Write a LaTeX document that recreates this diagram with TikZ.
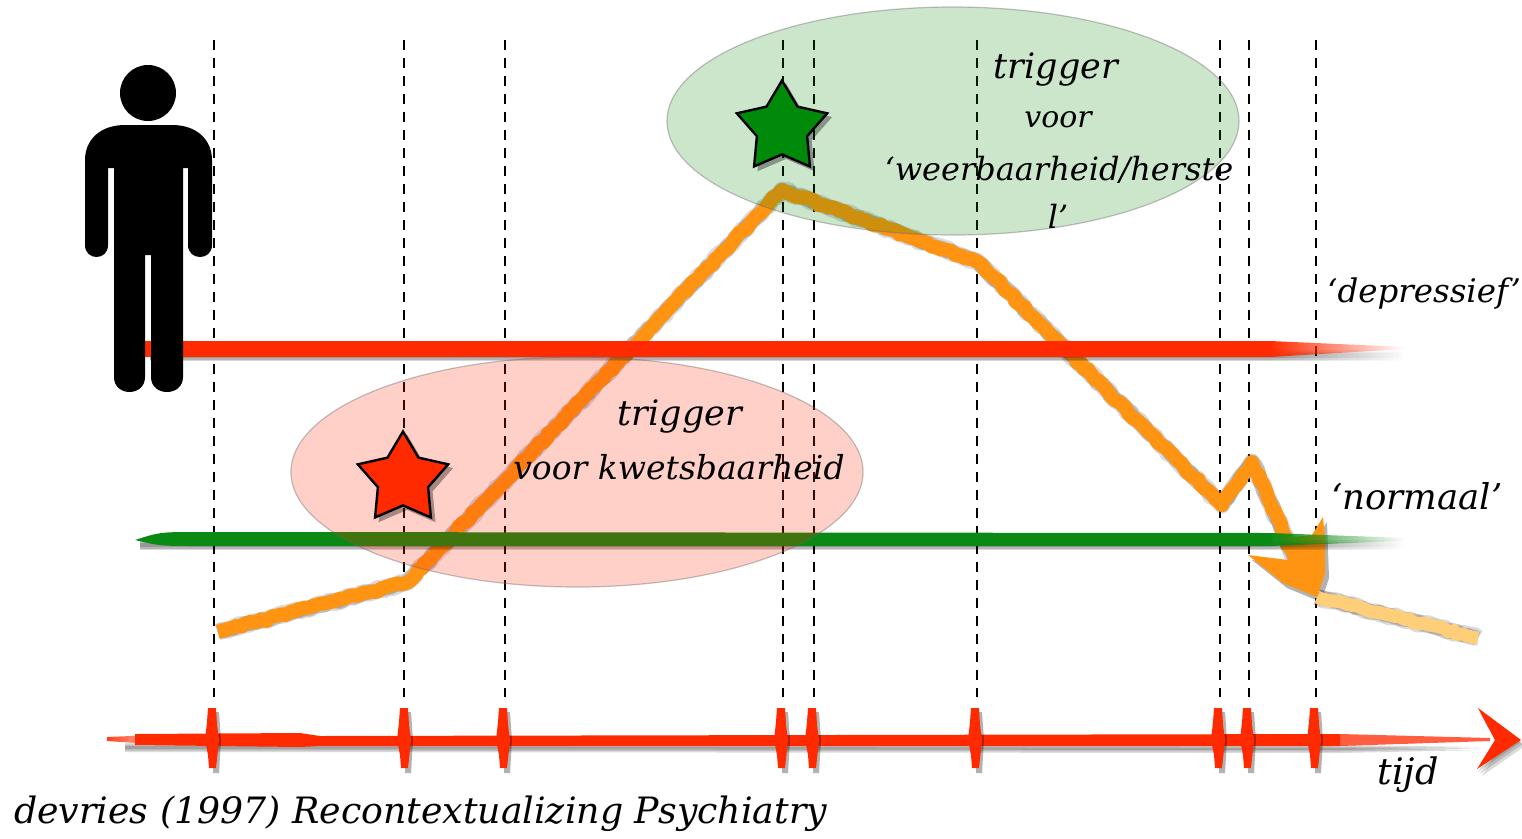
\documentclass[tikz,border=0pt]{standalone}
\usepackage{fontspec}
\newfontfamily\hwfont{DejaVu Serif}
\usetikzlibrary{shapes.geometric,decorations.pathmorphing,fadings}
\definecolor{barred}{HTML}{FF2A00}
\definecolor{bargreen}{HTML}{0A8A14}
\definecolor{curve}{HTML}{FF9412}
\definecolor{curvelight}{HTML}{FFCE78}
\definecolor{stargreen}{HTML}{008A0A}
\tikzfading[name=tailfade,left color=transparent!0,right color=transparent!100]
\tikzset{
  guide/.style={draw=black,line width=2.3pt,dash pattern=on 10pt off 8pt},
  hand/.style={font=\hwfont\itshape\fontsize{#1}{#1}\selectfont,text=black,inner sep=0pt},
  rough/.style={decorate,decoration={random steps,segment length=5pt,amplitude=1.6pt}},
  curveline/.style={draw=curve,line width=14pt,line join=round,rough},
  shadowline/.style={draw=black!70,opacity=.2,line join=round,rough},
  cloudgreen/.style={ellipse,minimum width=572pt,minimum height=228pt,inner sep=0pt,draw=black!60,draw opacity=.4,line width=1.2pt,fill=green!50!black,fill opacity=.2},
  cloudred/.style={ellipse,minimum width=572pt,minimum height=230pt,inner sep=0pt,draw=black!60,draw opacity=.4,line width=1.2pt,fill=barred,fill opacity=.22},
  starmark/.style={star,star points=5,star point ratio=1.8,minimum size=95pt,inner sep=0pt,draw=black,line width=2.4pt,line join=miter},
  starshade/.style={star,star points=5,star point ratio=1.8,minimum size=97pt,inner sep=0pt,fill=black,opacity=.35},
}
\begin{document}
\begin{tikzpicture}[x=1pt,y=-1pt]
\pgfmathsetseed{7}
\useasboundingbox (0,0) rectangle (1522,838);
% guides
\foreach \gx/\gn in {214/a,404/b,505/c,783/d,814/e,977/f,1220/g,1249/h,1316/i}{
  \coordinate (top\gn) at (\gx,40);
  \coordinate (bot\gn) at (\gx,697);
  \draw[guide] (top\gn) -- (bot\gn);
}
% curve
\coordinate (c0) at (218,632);
\coordinate (c1) at (408,582);
\coordinate (c2) at (782,190);
\coordinate (c3) at (978,262);
\coordinate (c4) at (1222,505);
\coordinate (c5) at (1252,462);
\coordinate (c6) at (1300,570);
\coordinate (c7) at (1317,597);
\coordinate (c8) at (1478,638);
\begin{scope}[shift={(4,5)}]
\foreach \lw in {17,15,13}{
  \draw[shadowline,line width=\lw pt] (c0) -- (c1) -- (c2) -- (c3) -- (c4) -- (c5) -- (c6);
  \draw[shadowline,line width=\lw pt] (c7) -- (c8);
}
\fill[black,opacity=.3] (1248,555) -- (1288,560) -- (1312,535) -- (1323,517) -- (1325,573) -- (1317,597) -- (1283,583) -- cycle;
\end{scope}
\draw[draw=curvelight,line width=13pt,rough] (c7) -- (c8);
\draw[curveline] (c0) -- (c1) -- (c2) -- (c3) -- (c4) -- (c5) -- (c6);
\fill[curve] (1248,555) -- (1288,560) -- (1293,537) -- (1312,535) -- (1323,517) -- (1325,540) -- (1325,573) -- (1317,597) -- (1283,583) -- cycle;
% level bars
\foreach \sh/\so in {0/.16,1.5/.16,3/.16}{
  \fill[black,opacity=\so] (150,350+\sh) rectangle (1270,358+\sh);
  \fill[black,opacity=\so,path fading=tailfade] (1270,350+\sh) rectangle (1405,358+\sh);
  \fill[black,opacity=\so] (140,540+\sh) rectangle (1270,547+\sh);
  \fill[black,opacity=\so,path fading=tailfade] (1270,540+\sh) rectangle (1405,547+\sh);
}
\fill[barred] (145,341) rectangle (1270,357);
\fill[barred,path fading=tailfade] (1270,341) -- (1405,347) -- (1405,349) -- (1270,357) -- cycle;
\fill[bargreen] (135,540) .. controls (160,532) .. (200,532) -- (1270,533) -- (1270,546) -- (200,546) .. controls (160,546) .. (135,540) -- cycle;
\fill[bargreen,path fading=tailfade] (1270,533) -- (1405,538) -- (1405,541) -- (1270,546) -- cycle;
% clouds
\node[cloudgreen] (cloudg) at (953,121) {};
\node[cloudred] (cloudr) at (577,472) {};
% time axis
\foreach \sh in {0,1.5,3}{
  \fill[black,opacity=.14] (125,743+\sh) -- (1340,745+\sh) -- (1480,747+\sh) -- (1340,750+\sh) -- (125,749+\sh) -- cycle;
}
\fill[barred,path fading=tailfade,opacity=.9] (107,737) -- (180,734) -- (180,746) -- (107,741) -- cycle;
\fill[barred] (135,734) -- (300,733) -- (320,736) -- (1340,734) -- (1340,746) -- (320,746) -- (300,747) -- (135,745) -- cycle;
\fill[barred,opacity=.75] (1340,734) -- (1490,738) -- (1490,741) -- (1340,746) -- cycle;
\foreach \tx in {212,404,503,781,812,975,1218,1247,1314}{
  \fill[black,opacity=.3] (\tx+1,712) -- (\tx+7,712) -- (\tx+9,740) -- (\tx+7,773) -- (\tx+1,773) -- cycle;
  \fill[barred] (\tx-4,708) -- (\tx+4,708) -- (\tx+5,725) -- (\tx+7,740) -- (\tx+4,768) -- (\tx-3,768) -- (\tx-4,755) -- (\tx-7,740) -- (\tx-5,722) -- cycle;
}
\foreach \sh in {0,2,4}{
  \fill[black,opacity=.14] (1479+\sh,712+\sh) -- (1521+\sh,742+\sh) -- (1478+\sh,772+\sh) -- (1496+\sh,742+\sh) -- cycle;
}
\fill[barred] (1478,708) -- (1521,740) -- (1477,769) -- (1495,740) -- cycle;
% figure
\fill[black] (148,93) circle[radius=28];
\fill[black] (85,160) .. controls (85,140) and (100,125) .. (125,125) -- (172,125)
  .. controls (197,125) and (212,140) .. (212,160) -- (212,245)
  .. controls (212,261) and (188,261) .. (188,245) -- (188,168) -- (183,168) -- (183,377)
  .. controls (183,397) and (151,397) .. (151,377) -- (151,255) -- (145,255) -- (145,377)
  .. controls (145,397) and (114,397) .. (114,377) -- (114,168) -- (108,168) -- (108,245)
  .. controls (108,261) and (85,261) .. (85,245) -- cycle;
% stars
\node[starshade] (shr) at (407,483) {};
\node[starmark,fill=barred] (starr) at (403,479) {};
\node[starshade] (shg) at (786,132) {};
\node[starmark,fill=stargreen] (starg) at (782,128) {};
% labels
\node[hand=35] (t1) at (680,417) {trigger};
\node[hand=33] (t2) at (679,467) {voor kwetsbaarheid};
\node[hand=35] (t3) at (1056,70) {trigger};
\node[hand=30] (t4) at (1058,120) {voor};
\node[hand=32] (t5) at (1059,170) {‘weerbaarheid/herste};
\node[hand=32] (t6) at (1058,216) {l’};
\node[hand=32.5] (t7) at (1424,294) {‘depressief’};
\node[hand=35.5] (t8) at (1417,496) {‘normaal’};
\node[hand=36.5] (t9) at (1408,775) {tijd};
\node[hand=36.3,anchor=west] (t10) at (14,814) {devries (1997) Recontextualizing Psychiatry};
\end{tikzpicture}
\end{document}
